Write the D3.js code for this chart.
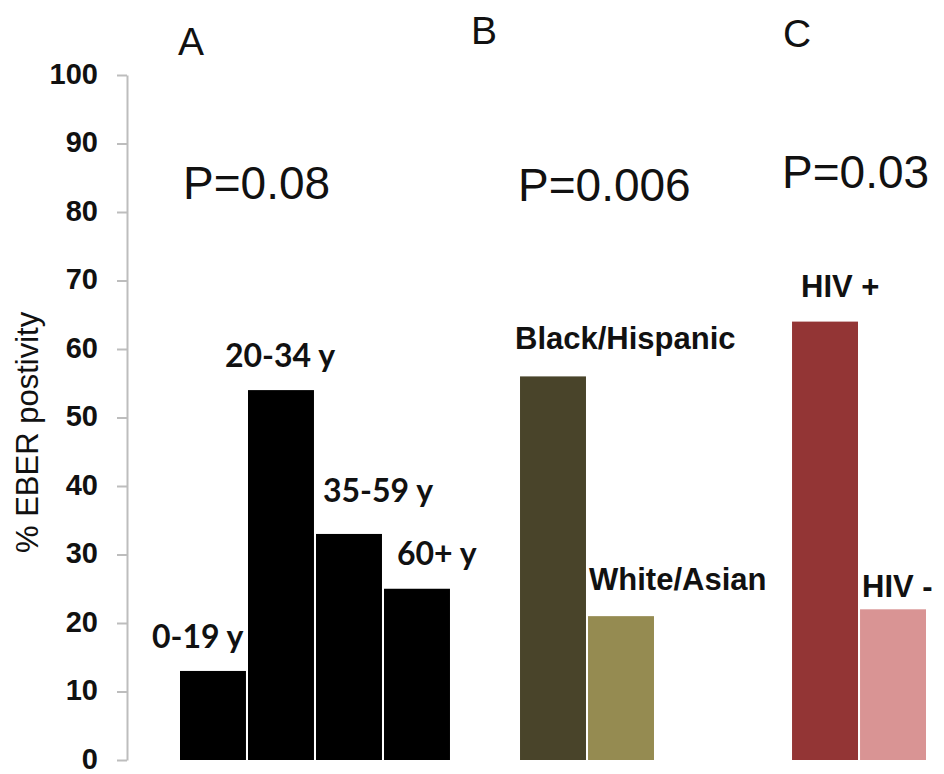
<!DOCTYPE html>
<html>
<head>
<meta charset="utf-8">
<script src="https://cdn.jsdelivr.net/npm/d3@7"></script>
<style>
  html, body { margin: 0; padding: 0; background: #ffffff; }
  svg { display: block; }
</style>
</head>
<body>
<svg id="chart" width="944" height="774"></svg>
<script>
// ---------- data ----------
const ageCategories  = ["0-19 y", "20-34 y", "35-59 y", "60+ y"];
const ageValues      = [13, 54, 33, 25];
const raceCategories = ["Black/Hispanic", "White/Asian"];
const raceValues     = [56, 21];
const hivCategories  = ["HIV +", "HIV -"];
const hivValues      = [64, 22];
const panelLetters   = ["A", "B", "C"];
const pValues        = ["P=0.08", "P=0.006", "P=0.03"];
const yTicks         = [0, 10, 20, 30, 40, 50, 60, 70, 80, 90, 100];
const yAxisTitle     = "% EBER postivity";

// ---------- style / layout ----------
const ageColors  = ["#000000", "#000000", "#000000", "#000000"];
const raceColors = ["#49442a", "#958b51"];
const hivColors  = ["#933535", "#d99494"];
// label offsets relative to bar left / bar top
const labelOffsets = {
  "0-19 y": [-28, -23], "20-34 y": [-23, -23], "35-59 y": [7, -32], "60+ y": [13, -24],
  "Black/Hispanic": [-5, -27], "White/Asian": [1, -26],
  "HIV +": [9, -25], "HIV -": [2, -12]
};
const labelFonts = {
  age: { family: "Lato, 'Liberation Sans', sans-serif", size: 32 },
  other: { family: "'Liberation Sans', Arial, sans-serif", size: 31 }
};

const svg = d3.select("#chart");
svg.append("rect").attr("width", 944).attr("height", 774).attr("fill", "#ffffff");

// build bar records with spacer slots between panels
const bars = [];
ageCategories.forEach((c, i) => bars.push({ key: c, value: ageValues[i], color: ageColors[i], group: "age" }));
raceCategories.forEach((c, i) => bars.push({ key: c, value: raceValues[i], color: raceColors[i], group: "race" }));
hivCategories.forEach((c, i) => bars.push({ key: c, value: hivValues[i], color: hivColors[i], group: "hiv" }));

const slotDomain = [...ageCategories, "_gap1", ...raceCategories, "_gap2", "_gap3", ...hivCategories];

const x = d3.scaleBand()
  .domain(slotDomain)
  .range([180, 926])
  .paddingInner(0.03)
  .paddingOuter(0);

const y = d3.scaleLinear().domain([0, 100]).range([760, 75]);

// y axis
const yAxis = d3.axisLeft(y)
  .tickValues(yTicks)
  .tickSize(10)
  .tickSizeOuter(0)
  .tickPadding(19)
  .tickFormat(d3.format("d"));

const gAxis = svg.append("g").attr("transform", "translate(127,0)").call(yAxis);
gAxis.select(".domain").attr("stroke", "#bdbdbd").attr("stroke-width", 2);
gAxis.selectAll(".tick line").attr("stroke", "#bdbdbd").attr("stroke-width", 2);
gAxis.selectAll(".tick text")
  .attr("fill", "#111")
  .attr("dy", "0.28em")
  .style("font-family", "'Liberation Sans', Arial, sans-serif")
  .style("font-weight", "bold")
  .style("font-size", "29px");

// axis title
svg.append("text")
  .attr("transform", "translate(38,553) rotate(-90)")
  .attr("text-anchor", "start")
  .style("font-family", "'Liberation Sans', Arial, sans-serif")
  .style("font-size", "31px")
  .attr("fill", "#111")
  .text(yAxisTitle);

// bars
svg.append("g").selectAll("rect")
  .data(bars)
  .join("rect")
  .attr("x", d => x(d.key))
  .attr("y", d => y(d.value))
  .attr("width", x.bandwidth())
  .attr("height", d => y(0) - y(d.value))
  .attr("fill", d => d.color);

// bar labels
svg.append("g").selectAll("text")
  .data(bars)
  .join("text")
  .attr("x", d => x(d.key) + labelOffsets[d.key][0])
  .attr("y", d => y(d.value) + labelOffsets[d.key][1])
  .style("font-family", d => d.group === "age" ? labelFonts.age.family : labelFonts.other.family)
  .style("font-size", d => (d.group === "age" ? labelFonts.age.size : labelFonts.other.size) + "px")
  .style("font-weight", "bold")
  .attr("fill", "#111")
  .text(d => d.key);

// panel letters and p-values
const panelPos = [
  { letter: [178, 55], p: [183, 199] },
  { letter: [471, 44], p: [518, 201] },
  { letter: [783, 47], p: [782, 188] }
];
panelLetters.forEach((L, i) => {
  svg.append("text")
    .attr("x", panelPos[i].letter[0]).attr("y", panelPos[i].letter[1])
    .style("font-family", "'Liberation Sans', Arial, sans-serif")
    .style("font-size", "39px")
    .attr("fill", "#111")
    .text(L);
  svg.append("text")
    .attr("x", panelPos[i].p[0]).attr("y", panelPos[i].p[1])
    .style("font-family", "'Liberation Sans', Arial, sans-serif")
    .style("font-size", "46px")
    .attr("fill", "#111")
    .text(pValues[i]);
});
</script>
</body>
</html>
